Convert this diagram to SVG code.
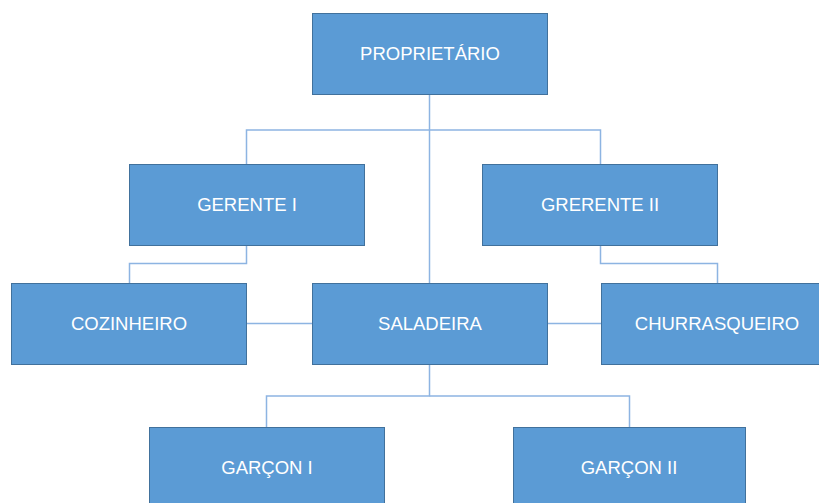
<svg xmlns="http://www.w3.org/2000/svg" width="819" height="503" viewBox="0 0 819 503">
<style>
.box{fill:#5B9BD5;stroke:#41719C;stroke-width:1}
.lbl{fill:#ffffff;font-family:"Liberation Sans",Arial,sans-serif;font-size:18.5px;text-anchor:middle}
.con{fill:none;stroke:#8DB4E2;stroke-width:1.5}
</style>
<rect width="819" height="503" fill="#ffffff"/>
<g id="connectors">
<path class="con" d="M429.5 94 V283"/>
<path class="con" d="M246.5 164 V130 H600.5 V164"/>
<path class="con" d="M246.5 245 V263.5 H129.5 V283"/>
<path class="con" d="M600.5 245 V263.5 H717.5 V283"/>
<path class="con" d="M246 323.5 H312"/>
<path class="con" d="M547 323.5 H601"/>
<path class="con" d="M429.5 364 V396 H266.5 V427"/>
<path class="con" d="M429.5 396 H629.5 V427"/>
</g>
<g id="proprietario"><rect class="box" x="312.5" y="13.5" width="235" height="81"/><text class="lbl" x="430" y="60">PROPRIETÁRIO</text></g>
<g id="gerente1"><rect class="box" x="129.5" y="164.5" width="235" height="81"/><text class="lbl" x="247" y="211">GERENTE I</text></g>
<g id="gerente2"><rect class="box" x="482.5" y="164.5" width="235" height="81"/><text class="lbl" x="600" y="211">GRERENTE II</text></g>
<g id="cozinheiro"><rect class="box" x="11.5" y="283.5" width="235" height="81"/><text class="lbl" x="129" y="330">COZINHEIRO</text></g>
<g id="saladeira"><rect class="box" x="312.5" y="283.5" width="235" height="81"/><text class="lbl" x="430" y="330">SALADEIRA</text></g>
<g id="churrasqueiro"><rect class="box" x="601.5" y="283.5" width="235" height="81"/><text class="lbl" x="717" y="330">CHURRASQUEIRO</text></g>
<g id="garcon1"><rect class="box" x="149.5" y="427.5" width="235" height="81"/><text class="lbl" x="267" y="474">GARÇON I</text></g>
<g id="garcon2"><rect class="box" x="513.5" y="427.5" width="232" height="81"/><text class="lbl" x="629" y="474">GARÇON II</text></g>
</svg>
